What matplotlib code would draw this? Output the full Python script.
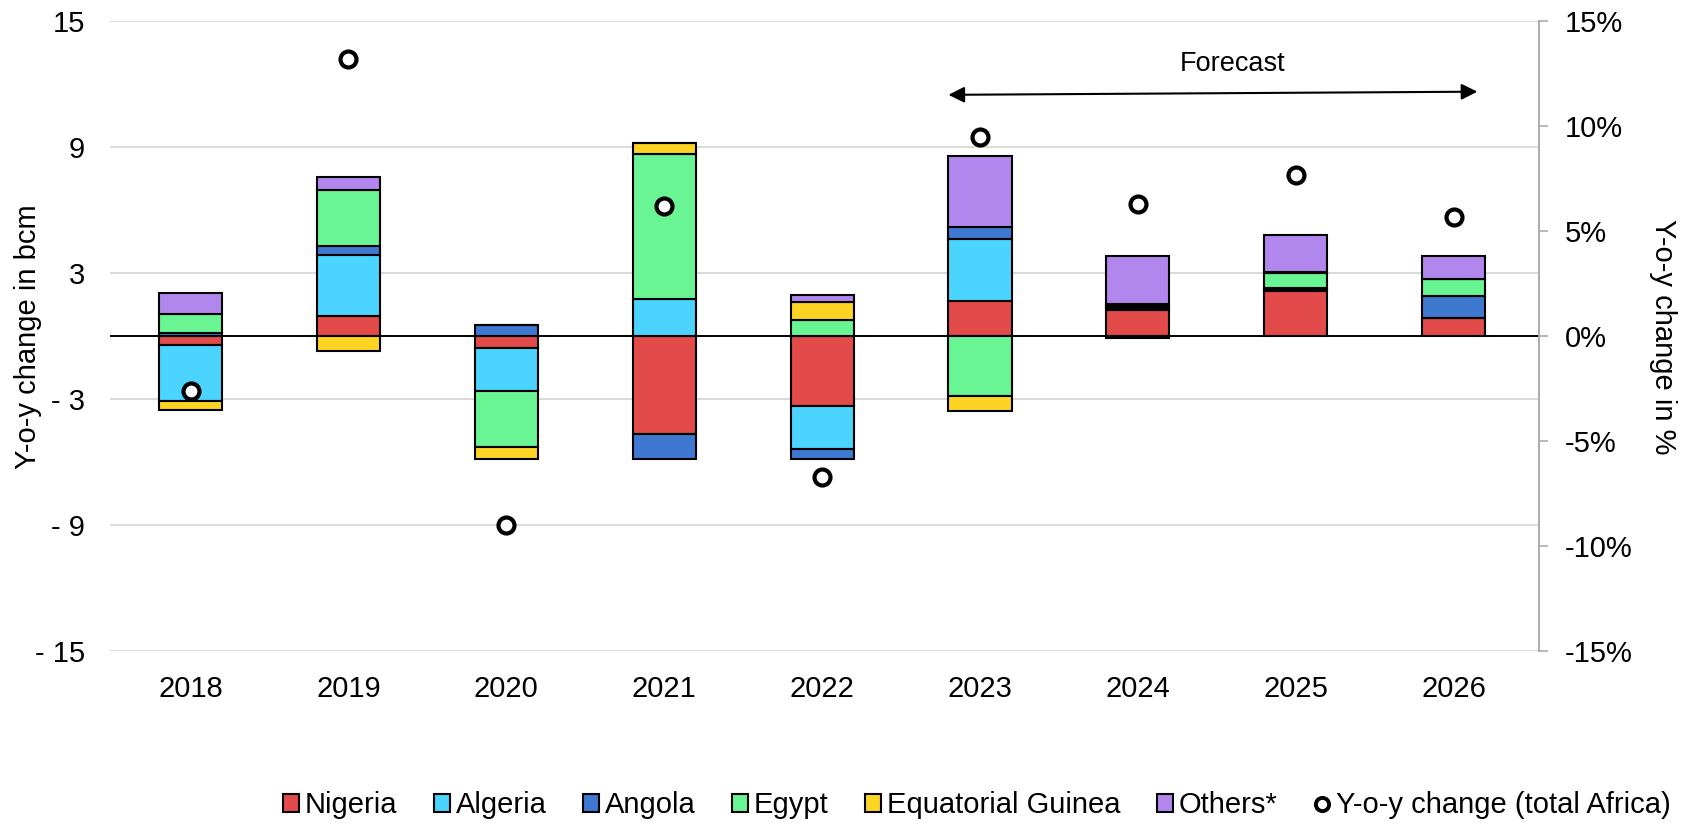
import matplotlib
matplotlib.use('Agg')
import matplotlib.pyplot as plt
import numpy as np
from matplotlib.patches import Patch
from matplotlib.lines import Line2D
from matplotlib.ticker import FuncFormatter, FixedLocator

plt.rcParams['font.family'] = ['Liberation Sans', 'DejaVu Sans']

years = ['2018', '2019', '2020', '2021', '2022', '2023', '2024', '2025', '2026']
nigeria = [-0.41, 0.96, -0.54, -4.65, -3.31, 1.70, 1.27, 2.18, 0.88]
algeria = [-2.67, 2.91, -2.06, 1.78, -2.06, 2.92, 0.08, 0.06, 0.0]
angola = [0.15, 0.41, 0.52, -1.21, -0.49, 0.60, 0.08, 0.07, 1.03]
egypt = [0.93, 2.68, -2.68, 6.91, 0.80, -2.82, 0.10, 0.72, 0.80]
eq_guinea = [-0.43, -0.72, -0.57, 0.51, 0.82, -0.73, -0.08, 0.05, 0.0]
others = [1.00, 0.63, 0.0, 0.0, 0.37, 3.38, 2.28, 1.75, 1.10]
yoy_pct = [-2.6, 13.2, -9.0, 6.2, -6.7, 9.5, 6.3, 7.7, 5.7]

series = [
    ('Nigeria', nigeria, '#E34A4A'),
    ('Algeria', algeria, '#4AD4FF'),
    ('Angola', angola, '#3E78D0'),
    ('Egypt', egypt, '#69F593'),
    ('Equatorial Guinea', eq_guinea, '#FED424'),
    ('Others*', others, '#B187ED'),
]

fs = 21
fig = plt.figure(figsize=(16.83, 8.27), dpi=100)
ax = fig.add_axes([0.0654, 0.2125, 0.849, 0.7617])

x = np.arange(len(years))
pos_base = np.zeros(len(years))
neg_base = np.zeros(len(years))
for name, vals, color in series:
    v = np.array(vals)
    base = np.where(v >= 0, pos_base, neg_base)
    ax.bar(x, v, 0.4, bottom=base, color=color, edgecolor='black', linewidth=1.5, zorder=3)
    pos_base = pos_base + np.where(v >= 0, v, 0)
    neg_base = neg_base + np.where(v < 0, v, 0)

ax.axhline(0, color='black', lw=1.4, zorder=4)

ax.set_ylim(-15, 15)
ax.set_xlim(-0.51, 8.54)
ax.yaxis.set_major_locator(FixedLocator([-15, -9, -3, 3, 9, 15]))
ax.yaxis.set_major_formatter(FuncFormatter(lambda v, p: f'- {abs(int(v))}' if v < 0 else f'{int(v)}'))
ax.grid(axis='y', color='#D9D9D9', lw=1.4, zorder=0)
ax.set_axisbelow(True)
for s in ax.spines.values():
    s.set_visible(False)
ax.tick_params(axis='y', length=0, pad=18, labelsize=fs)
ax.set_xticks(x)
ax.set_xticklabels(years)
ax.tick_params(axis='x', length=0, pad=17, labelsize=fs)
ax.set_ylabel('Y-o-y change in bcm', fontsize=fs, labelpad=-5)

ax2 = ax.twinx()
ax2.set_ylim(-15, 15)
ax2.set_yticks(np.arange(-15, 16, 5))
ax2.yaxis.set_major_formatter(FuncFormatter(lambda v, p: f'{int(v)}%'))
for s in ax2.spines.values():
    s.set_visible(False)
ax2.spines['right'].set_visible(True)
ax2.spines['right'].set_color('#A6A6A6')
ax2.spines['right'].set_linewidth(1.3)
ax2.tick_params(axis='y', direction='out', length=6.5, color='#A6A6A6', width=1.1, pad=12, labelsize=fs)
ax2.set_ylabel('Y-o-y change in %', fontsize=fs, rotation=270, labelpad=32)
ax2.plot(x, yoy_pct, 'o', ms=11.5, mew=3.0, mfc='white', mec='black', zorder=5)

ax.annotate('', xy=(8.15, 11.65), xytext=(4.8, 11.5),
            arrowprops=dict(arrowstyle='<|-|>', color='black', lw=1.5,
                            mutation_scale=24, shrinkA=0, shrinkB=0), zorder=6)
ax.text(6.6, 12.95, 'Forecast', ha='center', va='center', fontsize=19.5)

handles = [Patch(facecolor=c, edgecolor='black', linewidth=1.5, label=n) for n, v, c in series]
handles.append(Line2D([], [], marker='o', ls='none', ms=9.5, mew=2.8, mfc='white', mec='black',
                      label='Y-o-y change (total Africa)'))
fig.legend(handles=handles, loc='center right', bbox_to_anchor=(0.9995, 0.026), ncol=7,
           frameon=False, fontsize=fs, handlelength=0.55, handleheight=0.6,
           handletextpad=0.2, columnspacing=1.25, borderaxespad=0)

fig.savefig('out.png', dpi=100)
